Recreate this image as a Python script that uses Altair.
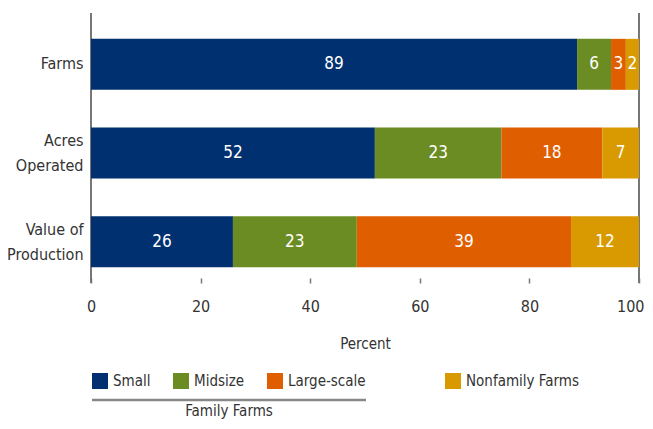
import altair as alt
import pandas as pd

measures = ["Farms", "Acres Operated", "Value of Production"]
segments = ["Small", "Midsize", "Large-scale", "Nonfamily Farms"]
small = [88.7, 51.8, 25.9]
midsize = [6.2, 23.1, 22.6]
large = [2.7, 18.4, 39.1]
nonfamily = [2.4, 6.7, 12.4]
axis_edges = [0, 100]
x_ticks = [0, 20, 40, 60, 80, 100]
colors = ["#00306F", "#6B8C23", "#DF5E00", "#D89A00"]

FONT = "Liberation Sans Narrow, DejaVu Sans Condensed, sans-serif"
TXT = "#333333"

rows = []
series = [small, midsize, large, nonfamily]
for i, m in enumerate(measures):
    start = 0.0
    for seg, vals in zip(segments, series):
        v = vals[i]
        rows.append(dict(measure=m, segment=seg, value=v, start=start,
                         end=start + v, mid=start + v / 2,
                         label=str(int(round(v)))))
        start += v
df = pd.DataFrame(rows)


def x_axis():
    return alt.Axis(values=x_ticks, title="Percent", grid=False, domain=False,
                    tickColor="#777777", tickSize=5, tickWidth=1.5, offset=-8,
                    labelFontSize=16, labelPadding=15, labelColor=TXT,
                    labelFlush=False,
                    labelAlign={"condition": {"test": "datum.value == 100",
                                              "value": "right"},
                                "value": "center"},
                    labelOffset={"condition": {"test": "datum.value == 100",
                                               "value": 5},
                                 "value": 0},
                    titleFontSize=15, titleFontWeight="normal", titlePadding=22,
                    titleColor=TXT)


x_scale = alt.Scale(domain=[0, 100], nice=False, zero=True)

label_expr = ("datum.label == 'Acres Operated' ? ['Acres', 'Operated'] : "
              "datum.label == 'Value of Production' ? ['Value of', 'Production'] : datum.label")
y_enc = alt.Y("measure:N", sort=measures,
              scale=alt.Scale(paddingInner=0.425),
              axis=alt.Axis(title=None, domain=False, ticks=False, labelFontSize=16,
                            labelColor=TXT, labelPadding=8, labelLineHeight=25,
                            labelOffset={"condition": {"test": "datum.value != 'Farms'",
                                                       "value": -12},
                                         "value": 0},
                            labelExpr=label_expr))

legend_common = dict(orient="none", direction="horizontal", symbolType="square",
                     symbolSize=256, symbolStrokeWidth=0, labelFontSize=15,
                     labelColor=TXT, labelOffset=5, columnPadding=22, padding=0,
                     legendY=353)

base = alt.Chart(df)

family = base.transform_filter(alt.datum.segment != "Nonfamily Farms").mark_bar().encode(
    x=alt.X("start:Q", scale=x_scale, axis=x_axis()),
    x2="end:Q",
    y=y_enc,
    color=alt.Color("segment:N",
                    scale=alt.Scale(domain=segments[:3], range=colors[:3]),
                    sort=segments[:3],
                    legend=alt.Legend(legendX=1, columns=3, title="Family Farms",
                                      titleOrient="bottom", titleAnchor="middle",
                                      titleFontSize=15, titleFontWeight="normal",
                                      titleColor=TXT, titlePadding=15,
                                      **legend_common)),
)

nonfam = base.transform_filter(alt.datum.segment == "Nonfamily Farms").mark_bar().encode(
    x=alt.X("start:Q", scale=x_scale, axis=x_axis()),
    x2="end:Q",
    y=y_enc,
    color=alt.Color("segment:N",
                    scale=alt.Scale(domain=segments[3:], range=colors[3:]),
                    legend=alt.Legend(legendX=354, title=None, **legend_common)),
)

labels = base.mark_text(color="white", fontSize=17, baseline="middle").encode(
    x=alt.X("mid:Q", scale=x_scale, axis=x_axis()),
    y=y_enc,
    text="label:N",
)

edges = alt.Chart(pd.DataFrame({"edge": axis_edges})).mark_rule(
    color="#777777", strokeWidth=2).encode(
    x=alt.X("edge:Q", scale=x_scale, axis=x_axis()),
    y=alt.value(-7),
    y2=alt.value(263),
)

separator = alt.Chart(pd.DataFrame({"k": [0]})).mark_rule(
    color="#888888", strokeWidth=2.5).encode(
    x=alt.value(1), x2=alt.value(275), y=alt.value(380)
)

chart = alt.layer(edges, family, nonfam, labels, separator).resolve_scale(
    color="independent"
).properties(
    width=548, height=266,
    autosize=alt.AutoSizeParams(type="none"),
    padding={"left": 83, "top": 12, "right": 6, "bottom": 135},
).configure(font=FONT).configure_view(stroke=None)

chart.save("out.html", embed_options={"renderer": "svg", "actions": False})
